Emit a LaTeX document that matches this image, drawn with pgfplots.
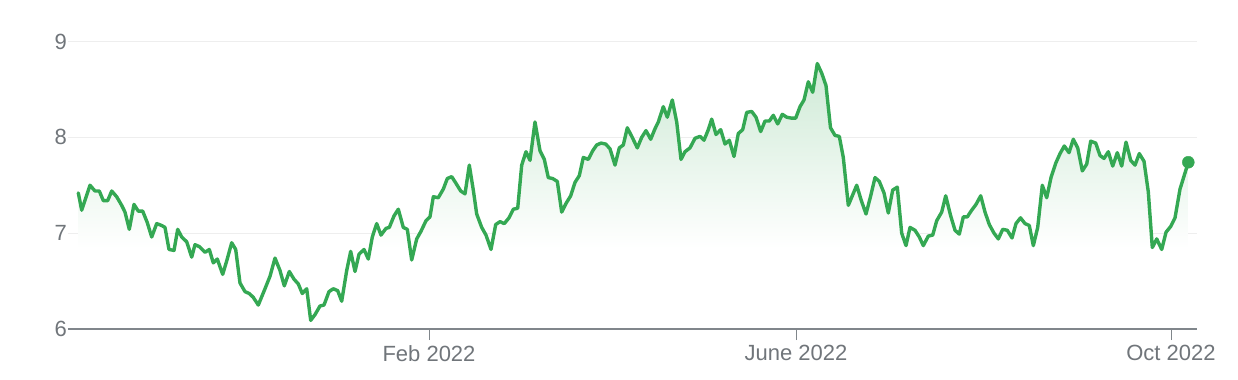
\documentclass[border=0pt]{standalone}
\usepackage{fontspec}
\setmainfont{Liberation Sans}
\usepackage{pgfplots}
\usepackage{pgfplotstable}
\pgfplotsset{compat=1.18}
\definecolor{gline}{HTML}{34A853}
\definecolor{gtext}{HTML}{70757A}
\definecolor{gaxis}{HTML}{80868B}
\definecolor{ggrid}{HTML}{EEEEEE}
\colorlet{gfill}{gline!24!white}
\pgfdeclareverticalshading{finfill}{100bp}{color(0bp)=(white); color(40bp)=(white); color(75bp)=(gfill); color(100bp)=(gfill)}

\pgfplotstableread{
x y
78.3 7.42
81.7 7.24
90 7.50
95 7.44
99.3 7.44
103.3 7.34
107.7 7.34
111.7 7.44
116.7 7.38
121.7 7.29
125 7.22
129.3 7.04
134 7.30
138.3 7.23
142.7 7.23
147.3 7.11
151.7 6.96
156.7 7.10
161.7 7.08
165 7.06
169 6.83
174 6.82
177.7 7.04
181.7 6.96
186.7 6.91
191.7 6.75
195 6.88
199.3 6.86
205 6.80
209.3 6.83
213.3 6.69
217.3 6.73
222.7 6.57
226.7 6.71
231.7 6.90
235.7 6.83
240 6.48
245 6.39
249.3 6.37
253.3 6.33
258.3 6.25
265 6.42
270 6.55
275 6.74
280 6.61
284.3 6.45
289.3 6.60
294 6.52
298.3 6.47
302.3 6.37
306.7 6.42
310.7 6.09
315 6.15
320 6.24
324 6.25
329 6.39
333.3 6.42
337.7 6.40
341.7 6.29
346.7 6.61
350.7 6.81
355 6.60
359 6.78
364 6.83
368.3 6.73
372.3 6.96
376.7 7.10
381 6.98
386 7.05
389.3 7.06
394 7.18
398.3 7.25
403.3 7.06
407.3 7.04
411.7 6.72
416.7 6.94
421 7.02
426 7.13
430 7.17
433.3 7.38
438.3 7.37
443.3 7.46
447.3 7.57
451.7 7.59
456 7.52
460.7 7.44
465 7.41
469.3 7.71
473.3 7.45
476.7 7.20
481.7 7.06
486 6.98
491 6.83
495.7 7.09
500 7.12
504.3 7.10
509 7.16
513.3 7.25
517.7 7.26
521.7 7.71
526 7.85
530 7.76
535 8.16
540 7.86
544.3 7.77
548.3 7.58
552.7 7.57
557.3 7.54
561.7 7.22
566 7.31
570.7 7.39
575 7.53
579.3 7.60
583.3 7.79
588.3 7.77
592.7 7.86
596.7 7.92
601 7.94
605.7 7.93
610 7.88
615 7.71
619.3 7.89
623.3 7.92
627.3 8.10
632.7 7.99
637.3 7.89
641.7 8.00
646 8.07
650.7 7.98
655 8.09
658.3 8.16
663.3 8.32
667.3 8.21
672.3 8.39
676.7 8.16
681 7.77
685 7.85
690 7.89
695 7.99
700 8.01
704 7.97
708.3 8.08
711.7 8.19
716 8.03
720.7 8.08
725 7.93
729.3 7.97
734 7.80
738.3 8.04
742.7 8.08
746.7 8.26
751.7 8.27
756 8.21
760.7 8.06
765 8.17
769.3 8.17
773.3 8.23
777.7 8.14
782.3 8.24
786.7 8.21
791.7 8.20
795.7 8.20
800 8.32
804 8.39
808.3 8.58
812.7 8.47
817.3 8.77
821.7 8.67
826 8.54
830.5 8.10
835 8.02
839.3 8.01
843.3 7.79
848.3 7.29
852.3 7.39
856.7 7.50
861 7.35
866 7.20
870.7 7.39
875 7.58
879.3 7.54
884 7.42
888.3 7.21
892.7 7.45
897.3 7.48
901.7 7.00
906 6.87
910 7.06
915 7.03
919.3 6.96
923.3 6.87
928.3 6.97
932.7 6.98
936.7 7.13
941.7 7.22
945.7 7.39
950.7 7.18
955 7.03
959.3 6.99
963.3 7.17
967.3 7.17
971.7 7.24
976 7.30
980.7 7.39
985 7.22
989.3 7.09
994 7.00
998.3 6.94
1002.7 7.04
1007.3 7.03
1012 6.95
1016 7.10
1020.5 7.16
1025 7.10
1029.3 7.08
1033.3 6.87
1037.7 7.06
1042.3 7.50
1046.7 7.37
1051 7.58
1055.7 7.73
1060 7.83
1064.3 7.91
1069 7.84
1073.3 7.98
1077.7 7.89
1082.3 7.65
1086.7 7.72
1090.7 7.96
1095.7 7.94
1100 7.81
1104 7.78
1108.3 7.85
1112.7 7.70
1117.3 7.84
1121.7 7.70
1126 7.95
1130.7 7.76
1135 7.71
1139.3 7.83
1144 7.75
1148.3 7.43
1152.3 6.85
1156.7 6.94
1161.7 6.83
1166 7.01
1170.7 7.07
1175 7.16
1180 7.46
1188.3 7.74
}\pricedata

\begin{document}
\begin{tikzpicture}
\begin{axis}[
  scale only axis, width=1128.5bp, height=287.5bp,
  xmin=68, xmax=1196.5, ymin=6, ymax=9,
  axis line style={draw=none},
  xtick={429,796,1171}, xticklabels={Feb 2022, June 2022, Oct 2022},
  ytick={7,8,9}, yticklabels={7,8,9},
  extra y ticks={6}, extra y tick labels={6},
  extra y tick style={grid style={draw=gaxis, line width=2bp}},
  /pgf/number format/assume math mode=true,
  ymajorgrids, grid style={draw=ggrid, line width=1bp},
  tick align=outside, major tick length=11bp,
  xtick pos=left, ytick pos=left,
  xtick style={draw=gaxis, line width=1bp},
  ytick style={draw=none},
  ticklabel style={font=\fontsize{22bp}{26bp}\selectfont, text=gtext, inner sep=0pt},
  xticklabel style={yshift=-5bp},
  yticklabel style={xshift=10bp},
]
\addplot[shading=finfill, draw=none, forget plot] table[x=x, y=y] {\pricedata}
  -- (axis cs:1188.3,6.012) -- (axis cs:78.3,6.012) -- cycle;
\addplot[gline, line width=3.4bp, line join=round, line cap=round] table[x=x, y=y] {\pricedata};
\addplot[only marks, mark=*, mark size=6bp, gline] coordinates {(1188.3,7.74)};
\end{axis}
\path ([shift={(-68bp,-51bp)}]current axis.south west) rectangle ([shift={(41.5bp,41.5bp)}]current axis.north east);
\end{tikzpicture}
\end{document}
